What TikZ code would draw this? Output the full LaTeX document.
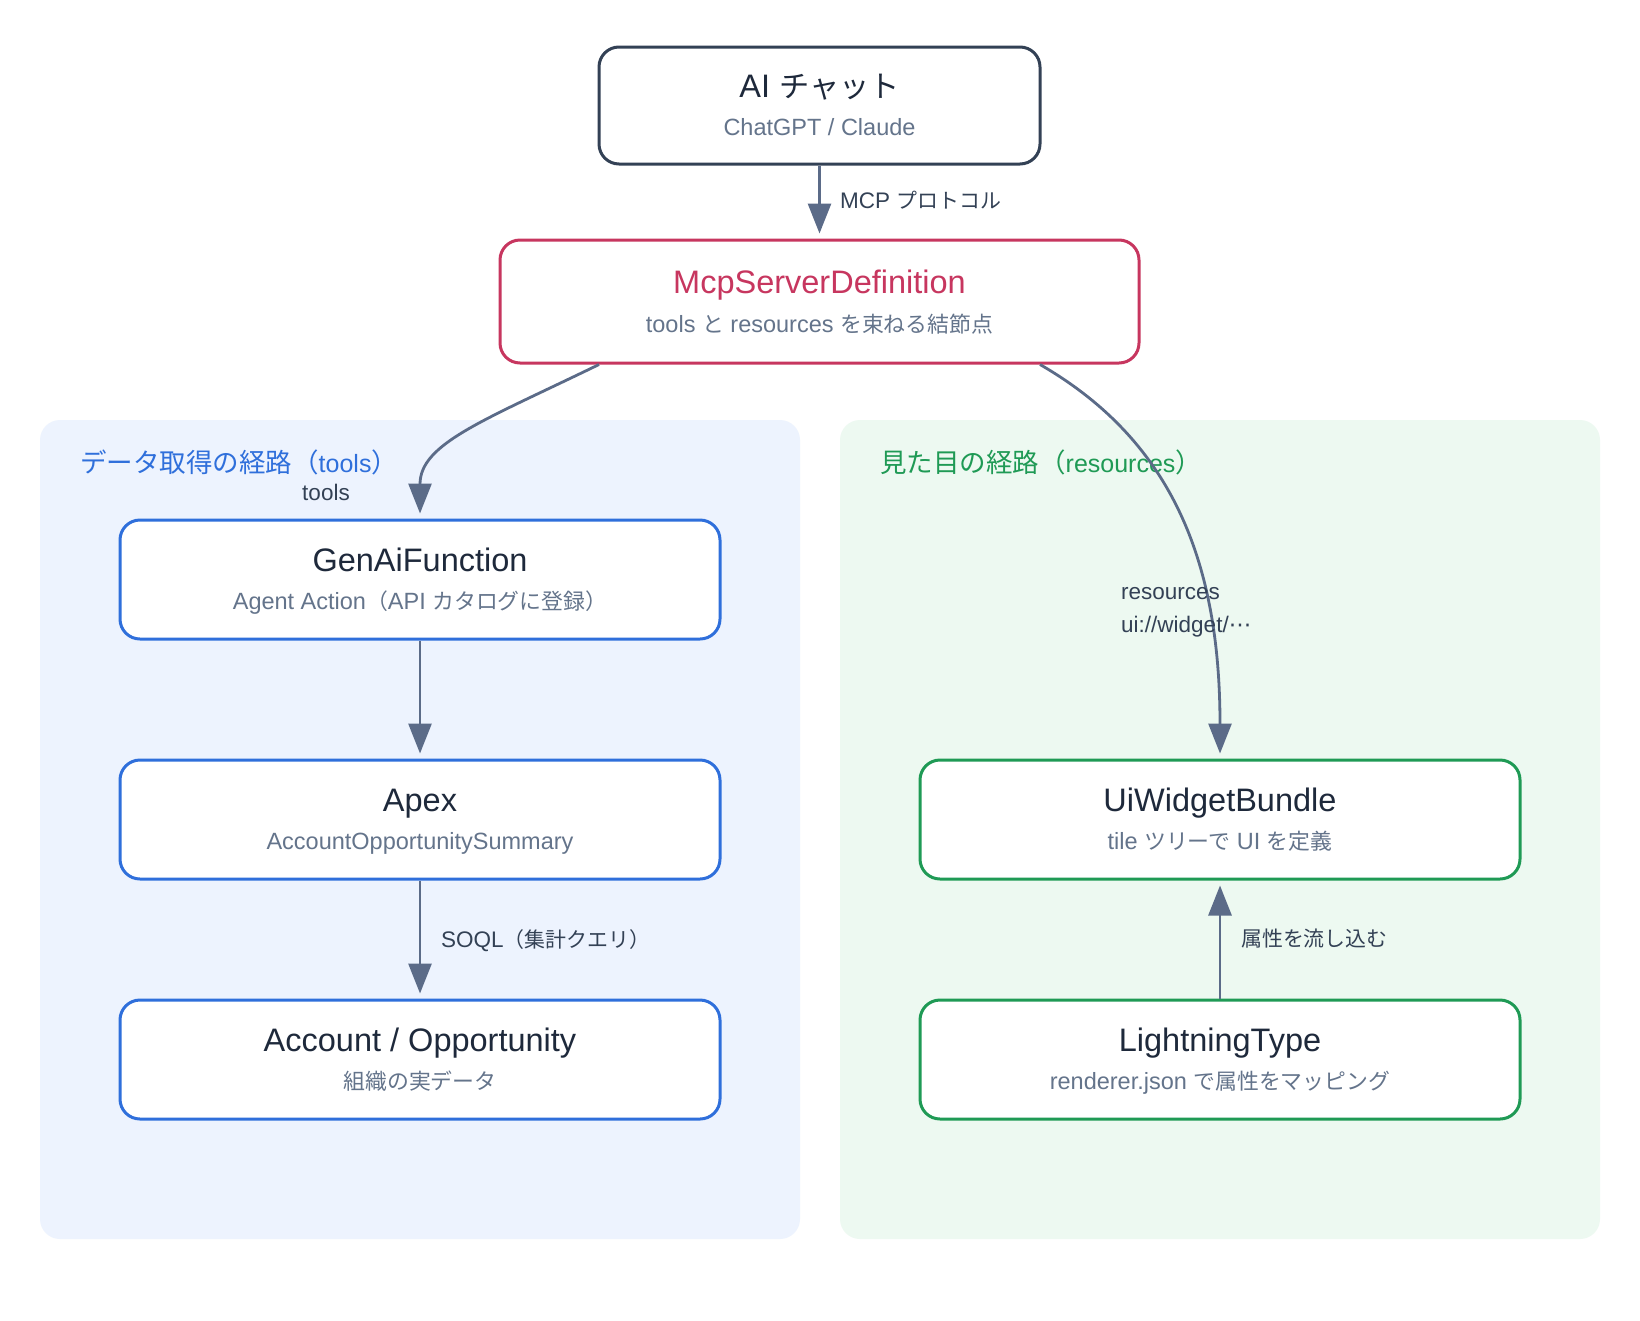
\documentclass[tikz,border=0pt]{standalone}
\usepackage{fontspec}
\setmainfont{Liberation Sans}
\newfontfamily\jp[Scale=0.93]{Noto Sans CJK JP}
\newfontfamily\jpl[Scale=1.06]{Noto Sans CJK JP}
\newfontfamily\symf{DejaVu Sans}
\usetikzlibrary{arrows.meta,calc}
\definecolor{ink}{HTML}{1E293B}
\definecolor{sub}{HTML}{64748B}
\definecolor{elab}{HTML}{334155}
\definecolor{aibd}{HTML}{334155}
\definecolor{mcpc}{HTML}{C7365F}
\definecolor{bluec}{HTML}{2F6FDB}
\definecolor{greenc}{HTML}{1F9A55}
\definecolor{bluebg}{HTML}{EDF3FE}
\definecolor{greenbg}{HTML}{EDF9F1}
\definecolor{arrc}{HTML}{5B6B88}
\begin{document}
\begin{tikzpicture}[x=1pt,y=-1pt,
  panel/.style={rounded corners=20pt,inner sep=0pt,draw=none},
  box/.style={rectangle,rounded corners=20pt,fill=white,line width=3pt,inner sep=0pt,minimum width=600pt,minimum height=119pt},
  ttl/.style={anchor=base,text=ink,inner sep=0pt,font=\fontsize{32.5}{38}\selectfont},
  subt/.style={anchor=base,text=sub,inner sep=0pt,font=\fontsize{23.5}{28}\selectfont},
  elabel/.style={anchor=base west,text=elab,inner sep=0pt,font=\fontsize{22.5}{27}\selectfont},
  plabel/.style={anchor=base west,inner sep=0pt,font=\fontsize{25}{30}\selectfont},
  arr/.style={draw=arrc,line width=2.8pt,-{Triangle[length=30pt,width=23pt]},shorten >=5pt}
]
\useasboundingbox (0,0) rectangle (1640,1320);
\fill[white] (0,0) rectangle (1640,1320);

% panels
\node[panel,fill=bluebg,minimum width=760pt,minimum height=819pt] (lp) at (420,829.5) {};
\node[panel,fill=greenbg,minimum width=760pt,minimum height=819pt] (rp) at (1220,829.5) {};
\node[plabel,text=bluec] (lpl) at (80,472) {{\jpl データ取得の経路（}tools{\jpl ）}};
\node[plabel,text=greenc] (rpl) at (880,472) {{\jpl 見た目の経路（}resources{\jpl ）}};

% boxes
\node[box,draw=aibd,minimum width=441pt,minimum height=117pt] (ai) at (819.5,105.5) {};
\node[ttl] (ait) at (819.5,97) {AI {\jp チャット}};
\node[subt] (ais) at (819.5,135.5) {ChatGPT / Claude};

\node[box,draw=mcpc,minimum width=639pt,minimum height=123pt] (mcp) at (819.5,301.5) {};
\node[ttl,text=mcpc] (mcpt) at (819.5,293) {McpServerDefinition};
\node[subt] (mcps) at (819.5,332) {tools {\jp と} resources {\jp を束ねる結節点}};

\node[box,draw=bluec] (gen) at (420,579.5) {};
\node[ttl] (gent) at (420,571) {GenAiFunction};
\node[subt] (gens) at (420,609.5) {Agent Action{\jp （}API {\jp カタログに登録）}};

\node[box,draw=bluec] (apex) at (420,819.5) {};
\node[ttl] (apext) at (420,811) {Apex};
\node[subt] (apexs) at (420,849.5) {AccountOpportunitySummary};

\node[box,draw=bluec] (acct) at (420,1059.5) {};
\node[ttl] (acctt) at (420,1051) {Account / Opportunity};
\node[subt] (accts) at (420,1089.5) {{\jp 組織の実データ}};

\node[box,draw=greenc] (ui) at (1220,819.5) {};
\node[ttl] (uit) at (1220,811) {UiWidgetBundle};
\node[subt] (uis) at (1220,849.5) {tile {\jp ツリーで} UI {\jp を定義}};

\node[box,draw=greenc] (lt) at (1220,1059.5) {};
\node[ttl] (ltt) at (1220,1051) {LightningType};
\node[subt] (lts) at (1220,1089.5) {renderer.json {\jp で属性をマッピング}};

% connectors
\draw[arr] (ai.south) -- (mcp.north);
\node[elabel] (l1) at (840,208) {MCP {\jp プロトコル}};

\draw[arr] ($(mcp.south)+(-220.5,0)$) .. controls +(-115,56) and +(0,-75) .. (gen.north);
\node[elabel,anchor=base] (l2) at (326,500) {tools};

\draw[arr] ($(mcp.south)+(220.5,0)$) .. controls +(130,75) and +(0,-200) .. (ui.north);
\node[elabel] (l3) at (1121,599) {resources};
\node[elabel] (l4) at (1121,632) {ui://widget/{\symf ⋯}};

\draw[arr] (gen.south) -- (apex.north);
\draw[arr] (apex.south) -- (acct.north);
\node[elabel] (l5) at (441,947) {SOQL{\jp （集計クエリ）}};

\draw[arr] (lt.north) -- (ui.south);
\node[elabel] (l6) at (1241,946) {{\jp 属性を流し込む}};
\end{tikzpicture}
\end{document}
